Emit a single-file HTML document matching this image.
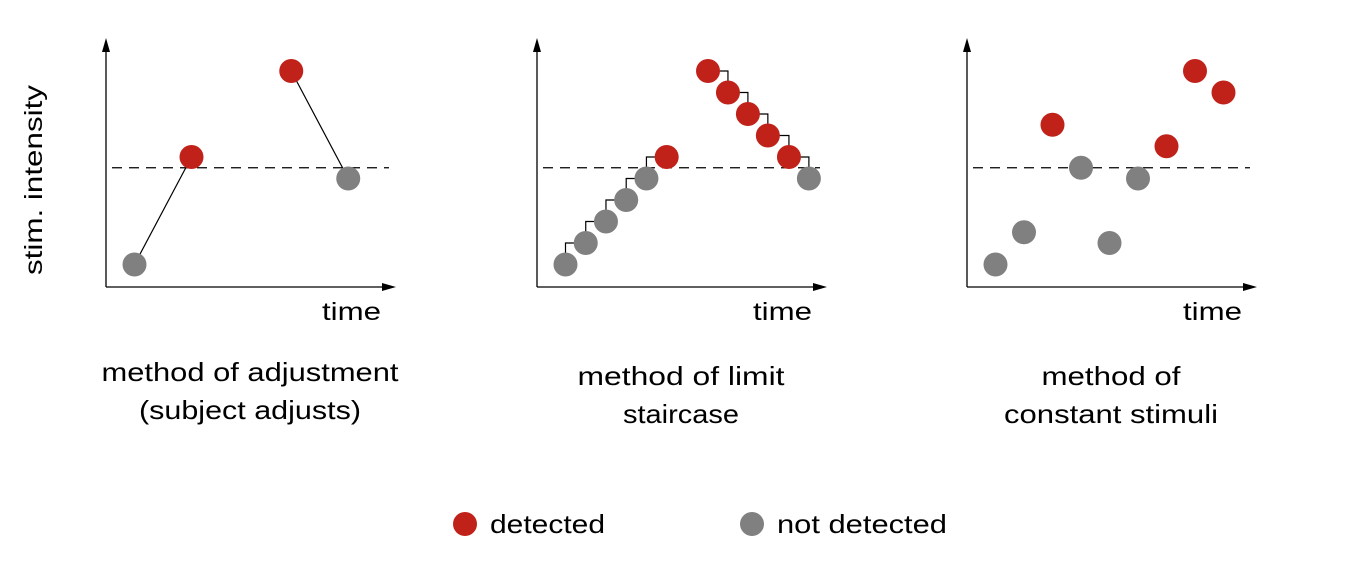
<!DOCTYPE html>
<html><head><meta charset="utf-8"><style>
html,body{margin:0;padding:0;background:#fff;}
svg{display:block;font-family:"Liberation Sans",sans-serif;}
</style></head><body>
<svg id="chart" width="1360" height="572" viewBox="0 0 1360 572">
<text x="42" y="180" font-size="25" text-anchor="middle" textLength="190" lengthAdjust="spacingAndGlyphs" transform="rotate(-90 42 180)">stim. intensity</text>
<g id="panels"></g>
<g>
<circle cx="465" cy="524" r="12" fill="#c0221a"/>
<text x="490" y="533" font-size="26" textLength="115" lengthAdjust="spacingAndGlyphs">detected</text>
<circle cx="752" cy="524" r="12" fill="#808080"/>
<text x="777" y="533" font-size="26" textLength="170" lengthAdjust="spacingAndGlyphs">not detected</text>
</g>
</svg>
<script>
const threshold = 5.5;
const p1Times = [1, 3, 6.5, 8.5];
const p1Values = [1, 6, 10, 5];
const p1Detected = [0, 1, 1, 0];
const p2Times = [1, 1.71, 2.42, 3.13, 3.84, 4.55, 6.0, 6.7, 7.4, 8.1, 8.84, 9.54];
const p2Values = [1, 2, 3, 4, 5, 6, 10, 9, 8, 7, 6, 5];
const p2Detected = [0, 0, 0, 0, 0, 1, 1, 1, 1, 1, 1, 0];
const p3Times = [1, 2, 3, 4, 5, 6, 7, 8, 9];
const p3Values = [1, 2.5, 7.5, 5.5, 2, 5, 6.5, 10, 9];
const p3Detected = [0, 0, 1, 0, 0, 0, 1, 1, 1];
const titles = [["method of adjustment","(subject adjusts)"],["method of limit","staircase"],["method of","constant stimuli"]];
const titleWidths = [[297,222],[207,116],[139,214]];
const titleTops = [381, 385, 385];
const origins = [106, 537, 967];
const NS = "http://www.w3.org/2000/svg";
const root = document.getElementById("panels");
function mk(tag, attrs, parent){const e=document.createElementNS(NS,tag);for(const k in attrs)e.setAttribute(k,attrs[k]);(parent||root).appendChild(e);return e;}
const yS = v => 286 - v*21.5;
function drawPanel(i, times, vals, det, mode){
  const ox = origins[i];
  const xS = t => ox + t*28.5;
  const g = mk("g",{});
  
  
  let e = mk("line",{x1:ox,y1:287,x2:ox,y2:48,stroke:"#000","stroke-width":1.3},g);
  
  
  e = mk("polygon",{points:`${ox-4},52 ${ox+4},52 ${ox},38`,fill:"#000"},g);
  
  
  e = mk("line",{x1:ox,y1:287,x2:ox+278,y2:287,stroke:"#000","stroke-width":1.3},g);
  
  
  e = mk("polygon",{points:`${ox+276},283 ${ox+276},291 ${ox+290},287`,fill:"#000"},g);
  
  
  e = mk("text",{x:ox+216,y:320,"font-size":25,textLength:59,lengthAdjust:"spacingAndGlyphs"},g);
  e.textContent="time";
  
  
  e = mk("line",{x1:ox+6,y1:yS(threshold),x2:ox+283,y2:yS(threshold),stroke:"#000","stroke-width":1.2,"stroke-dasharray":"10,7"},g);
  
  
  if(mode==="adjust"){
    [[0,1],[2,3]].forEach(([a,b])=>{
      e = mk("line",{x1:xS(times[a]),y1:yS(vals[a]),x2:xS(times[b]),y2:yS(vals[b]),stroke:"#000","stroke-width":1.2},g);
      
      
    });
  } else if(mode==="stair"){
    const segs=[[0,5],[6,11]];
    segs.forEach(([s,t])=>{
      let d=`M${xS(times[s])},${yS(vals[s])}`;
      for(let k=s+1;k<=t;k++){
        if(vals[k]>vals[k-1]) d+=` V${yS(vals[k])} H${xS(times[k])}`;
        else d+=` H${xS(times[k])} V${yS(vals[k])}`;
      }
      e = mk("path",{d:d,fill:"none",stroke:"#000","stroke-width":1.2},g);
      
      
    });
  }
  times.forEach((t,k)=>{
    e = mk("circle",{cx:xS(t),cy:yS(vals[k]),r:12,fill:det[k]?"#c0221a":"#808080"},g);
    
    
  });
  titles[i].forEach((s,k)=>{
    const w = titleWidths[i][k];
    e = mk("text",{x:ox+144-w/2,y:titleTops[i]+k*38,"font-size":26,textLength:w,lengthAdjust:"spacingAndGlyphs"},g);
    e.textContent=s;
    
    
  });
}
drawPanel(0,p1Times,p1Values,p1Detected,"adjust");
drawPanel(1,p2Times,p2Values,p2Detected,"stair");
drawPanel(2,p3Times,p3Values,p3Detected,"none");
</script>
</body></html>
